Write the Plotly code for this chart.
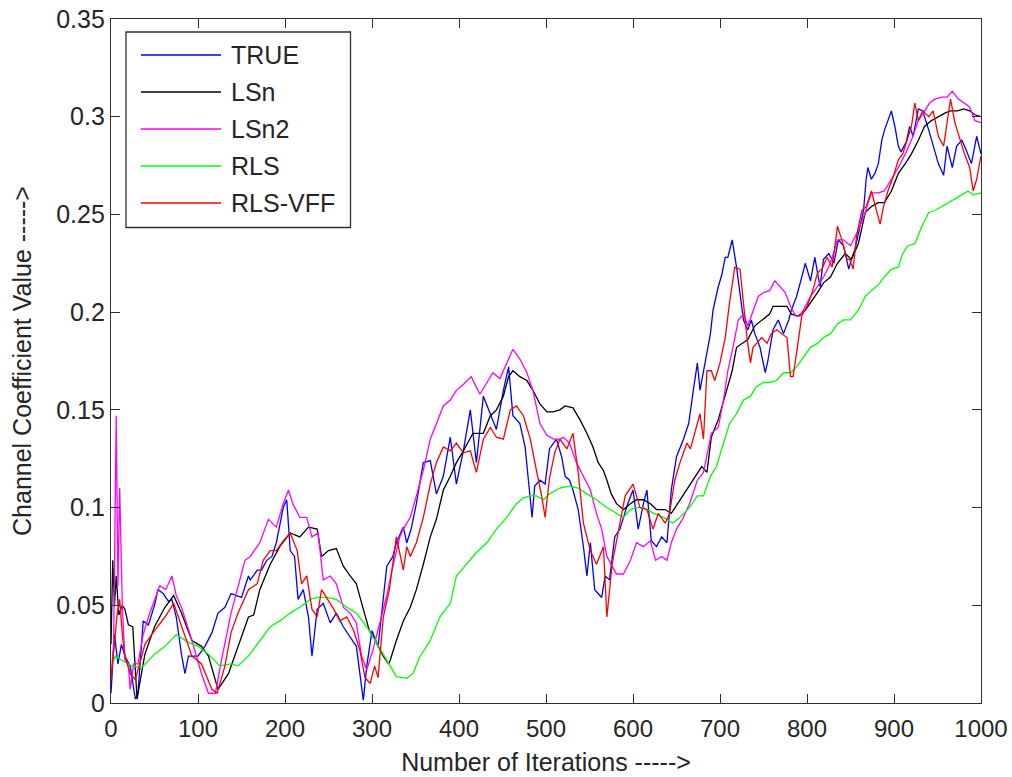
import plotly.graph_objects as go

# ---- channel coefficient tracks (iteration, value) ----
true_iter = [0, 4, 8, 12, 16, 22, 28, 31, 37, 43, 50, 54, 60, 66, 70, 75, 81, 85, 89, 100,
             108, 116, 123, 131, 138, 150, 158, 160, 165, 168, 173, 179, 185, 190, 198, 202, 206, 211, 215, 221,
             227, 231, 237, 244, 252, 259, 267, 275, 282, 290, 294, 300, 307, 317, 324, 328, 336, 340, 345, 351,
             359, 367, 374, 382, 390, 397, 405, 413, 420, 428, 436, 443, 451, 457, 462, 470, 476, 480, 484, 487,
             493, 499, 504, 512, 518, 522, 527, 531, 537, 543, 547, 551, 556, 564, 568, 573, 579, 585, 589, 594,
             600, 606, 612, 616, 621, 627, 633, 639, 644, 650, 658, 664, 670, 674, 677, 683, 689, 692, 698, 702,
             706, 709, 714, 719, 723, 727, 732, 736, 740, 746, 752, 755, 761, 767, 773, 779, 782, 788, 794, 798,
             804, 809, 815, 819, 825, 831, 836, 842, 848, 851, 855, 861, 865, 868, 870, 874, 878, 882, 886, 889,
             893, 897, 901, 905, 908, 914, 918, 922, 928, 933, 940, 945, 951, 957, 961, 967, 972, 978, 983, 989,
             995, 1000]
true_val = [0.005, 0.035, 0.02, 0.03, 0.024, 0.019, 0.002, 0.005, 0.042, 0.04, 0.05, 0.058, 0.056, 0.052, 0.053, 0.044, 0.025, 0.015, 0.024, 0.024,
            0.029, 0.036, 0.046, 0.049, 0.056, 0.054, 0.065, 0.063, 0.066, 0.068, 0.068, 0.073, 0.075, 0.082, 0.1, 0.104, 0.078, 0.075, 0.053, 0.058,
            0.044, 0.024, 0.048, 0.051, 0.041, 0.046, 0.039, 0.034, 0.029, 0.0015, 0.019, 0.037, 0.029, 0.07, 0.075, 0.082, 0.09, 0.082, 0.089, 0.102,
            0.123, 0.124, 0.107, 0.116, 0.136, 0.112, 0.129, 0.15, 0.123, 0.157, 0.148, 0.14, 0.16, 0.172, 0.147, 0.143, 0.131, 0.114, 0.095, 0.111,
            0.114, 0.112, 0.13, 0.135, 0.126, 0.116, 0.114, 0.109, 0.099, 0.08, 0.065, 0.082, 0.058, 0.054, 0.065, 0.063, 0.085, 0.089, 0.095, 0.102,
            0.109, 0.089, 0.102, 0.109, 0.083, 0.08, 0.085, 0.082, 0.109, 0.126, 0.135, 0.143, 0.162, 0.174, 0.16, 0.174, 0.189, 0.201, 0.213, 0.219,
            0.228, 0.228, 0.237, 0.223, 0.21, 0.196, 0.191, 0.196, 0.189, 0.182, 0.169, 0.175, 0.191, 0.196, 0.189, 0.196, 0.201, 0.208, 0.218, 0.225,
            0.216, 0.228, 0.213, 0.227, 0.23, 0.225, 0.237, 0.234, 0.222, 0.227, 0.232, 0.244, 0.252, 0.268, 0.274, 0.268, 0.271, 0.276, 0.288, 0.293,
            0.298, 0.303, 0.295, 0.285, 0.282, 0.287, 0.295, 0.29, 0.304, 0.303, 0.293, 0.285, 0.276, 0.27, 0.285, 0.274, 0.285, 0.288, 0.283, 0.276,
            0.29, 0.281]

lsn_iter = [0, 2, 4, 6, 9, 13, 16, 20, 25, 30, 33, 39, 50, 62, 72, 81, 93, 104, 112, 123,
            135, 146, 158, 164, 171, 183, 194, 206, 217, 227, 237, 242, 250, 259, 267, 275, 282, 290, 297, 305,
            313, 319, 321, 328, 336, 344, 351, 359, 367, 374, 382, 390, 397, 405, 416, 428, 436, 443, 451, 457,
            462, 470, 478, 485, 493, 501, 508, 516, 522, 531, 539, 547, 554, 560, 566, 570, 575, 581, 589, 597,
            604, 612, 620, 627, 637, 644, 654, 662, 669, 674, 679, 685, 690, 698, 706, 714, 719, 725, 732, 740,
            748, 757, 761, 769, 777, 782, 790, 798, 806, 812, 819, 827, 835, 844, 851, 859, 867, 874, 882, 889,
            897, 905, 913, 920, 928, 935, 943, 951, 959, 965, 973, 980, 987, 993, 1000]
lsn_val = [0.03, 0.073, 0.05, 0.065, 0.045, 0.05, 0.048, 0.04, 0.039, 0.002, 0.01, 0.025, 0.039, 0.049, 0.055, 0.046, 0.032, 0.029, 0.024, 0.007,
           0.015, 0.029, 0.044, 0.045, 0.058, 0.071, 0.08, 0.087, 0.085, 0.09, 0.089, 0.075, 0.078, 0.079, 0.07, 0.065, 0.061, 0.048, 0.037, 0.031,
           0.024, 0.02, 0.022, 0.032, 0.042, 0.049, 0.058, 0.071, 0.085, 0.094, 0.109, 0.116, 0.123, 0.129, 0.138, 0.138, 0.147, 0.15, 0.157, 0.167,
           0.17, 0.167, 0.165, 0.16, 0.153, 0.149, 0.149, 0.15, 0.152, 0.151, 0.145, 0.138, 0.131, 0.123, 0.119, 0.114, 0.107, 0.102, 0.099, 0.102,
           0.104, 0.104, 0.102, 0.099, 0.099, 0.097, 0.104, 0.109, 0.114, 0.118, 0.121, 0.118, 0.136, 0.145, 0.158, 0.17, 0.182, 0.184, 0.186, 0.193,
           0.196, 0.199, 0.203, 0.203, 0.203, 0.199, 0.198, 0.201, 0.206, 0.21, 0.215, 0.218, 0.225, 0.23, 0.227, 0.235, 0.251, 0.254, 0.256, 0.256,
           0.262, 0.271, 0.276, 0.281, 0.288, 0.295, 0.298, 0.3, 0.302, 0.303, 0.303, 0.304, 0.303, 0.301, 0.3]

lsn2_iter = [0, 3, 6, 8, 10, 13, 16, 20, 22, 26, 31, 37, 43, 50, 56, 63, 70, 75, 81, 93,
             104, 112, 120, 127, 138, 154, 160, 171, 181, 190, 198, 204, 209, 217, 225, 231, 238, 244, 252, 259,
             267, 275, 282, 288, 294, 301, 309, 317, 324, 332, 336, 344, 351, 359, 367, 374, 382, 390, 397, 405,
             414, 424, 432, 439, 447, 455, 462, 470, 478, 485, 493, 501, 509, 516, 520, 527, 535, 543, 551, 558,
             564, 570, 575, 581, 589, 597, 604, 612, 620, 626, 633, 639, 644, 650, 658, 665, 674, 681, 686, 690,
             698, 704, 709, 715, 721, 727, 732, 738, 744, 750, 757, 763, 769, 775, 781, 787, 792, 798, 804, 812,
             819, 827, 835, 842, 850, 859, 867, 874, 882, 889, 897, 905, 913, 920, 928, 935, 941, 947, 955, 961,
             967, 974, 981, 987, 993, 1000]
lsn2_val = [0.013, 0.03, 0.147, 0.06, 0.11, 0.05, 0.022, 0.02, 0.007, 0.02, 0.02, 0.035, 0.044, 0.053, 0.06, 0.058, 0.065, 0.055, 0.049, 0.032,
            0.015, 0.005, 0.005, 0.022, 0.046, 0.073, 0.075, 0.082, 0.094, 0.09, 0.102, 0.109, 0.102, 0.095, 0.095, 0.085, 0.087, 0.063, 0.065, 0.061,
            0.049, 0.046, 0.041, 0.024, 0.017, 0.027, 0.041, 0.055, 0.07, 0.085, 0.089, 0.095, 0.106, 0.119, 0.135, 0.143, 0.152, 0.155, 0.16, 0.163,
            0.167, 0.158, 0.164, 0.169, 0.166, 0.174, 0.181, 0.176, 0.169, 0.16, 0.143, 0.137, 0.135, 0.135, 0.136, 0.133, 0.123, 0.116, 0.109, 0.097,
            0.089, 0.075, 0.071, 0.066, 0.066, 0.073, 0.082, 0.08, 0.083, 0.073, 0.075, 0.073, 0.082, 0.089, 0.095, 0.102, 0.114, 0.118, 0.129, 0.138,
            0.141, 0.155, 0.17, 0.182, 0.196, 0.199, 0.193, 0.201, 0.208, 0.21, 0.211, 0.216, 0.213, 0.21, 0.203, 0.198, 0.198, 0.203, 0.208, 0.213,
            0.218, 0.225, 0.237, 0.237, 0.234, 0.242, 0.251, 0.261, 0.261, 0.262, 0.268, 0.274, 0.281, 0.288, 0.298, 0.303, 0.307, 0.309, 0.31, 0.31,
            0.313, 0.309, 0.307, 0.305, 0.298, 0.297]

rls_iter = [0, 5, 12, 24, 35, 50, 62, 75, 89, 100, 112, 125, 138, 146, 158, 171, 183, 194, 206, 217,
            229, 237, 248, 259, 271, 282, 294, 305, 317, 328, 340, 347, 355, 367, 378, 390, 397, 409, 420, 432,
            443, 455, 466, 474, 482, 489, 497, 504, 516, 527, 537, 547, 558, 570, 581, 589, 597, 604, 612, 624,
            635, 646, 654, 665, 674, 681, 689, 696, 704, 711, 719, 727, 735, 742, 750, 757, 765, 773, 781, 788,
            796, 804, 812, 819, 827, 835, 842, 850, 859, 867, 874, 882, 889, 897, 905, 910, 916, 924, 932, 940,
            947, 955, 963, 970, 978, 985, 991, 1000]
rls_val = [0.018, 0.024, 0.022, 0.019, 0.018, 0.025, 0.029, 0.035, 0.031, 0.029, 0.025, 0.019, 0.02, 0.019, 0.024, 0.032, 0.039, 0.042, 0.046, 0.049,
           0.053, 0.054, 0.054, 0.053, 0.049, 0.046, 0.039, 0.031, 0.022, 0.0135, 0.0126, 0.015, 0.0237, 0.032, 0.044, 0.051, 0.065, 0.071, 0.077, 0.082,
           0.089, 0.095, 0.102, 0.105, 0.106, 0.106, 0.104, 0.107, 0.11, 0.111, 0.11, 0.107, 0.104, 0.1, 0.097, 0.095, 0.099, 0.1, 0.1, 0.097,
           0.095, 0.092, 0.095, 0.1, 0.106, 0.106, 0.116, 0.121, 0.133, 0.143, 0.148, 0.155, 0.157, 0.162, 0.164, 0.164, 0.165, 0.169, 0.169, 0.172,
           0.177, 0.182, 0.184, 0.187, 0.189, 0.194, 0.196, 0.196, 0.201, 0.208, 0.211, 0.214, 0.218, 0.222, 0.223, 0.23, 0.234, 0.235, 0.244, 0.251,
           0.252, 0.254, 0.256, 0.258, 0.26, 0.262, 0.26, 0.261]

vff_iter = [0, 4, 7, 10, 13, 16, 22, 28, 33, 39, 50, 62, 72, 81, 93, 104, 116, 122, 131, 138,
            146, 158, 168, 175, 183, 190, 198, 206, 214, 219, 225, 231, 237, 242, 248, 256, 263, 271, 279, 286,
            292, 298, 303, 307, 313, 320, 328, 336, 340, 344, 351, 359, 367, 374, 382, 390, 397, 405, 413, 420,
            428, 436, 443, 451, 459, 466, 474, 482, 489, 495, 499, 504, 510, 516, 524, 531, 537, 543, 551, 558,
            566, 570, 576, 585, 591, 600, 608, 616, 623, 629, 637, 642, 648, 654, 662, 666, 671, 677, 681, 685,
            690, 694, 700, 706, 711, 717, 723, 727, 731, 735, 738, 742, 748, 754, 759, 765, 771, 777, 781, 784,
            788, 794, 800, 806, 812, 817, 823, 829, 835, 840, 846, 849, 853, 857, 863, 868, 874, 880, 884, 888,
            893, 899, 905, 910, 916, 920, 924, 928, 933, 940, 945, 951, 957, 961, 965, 970, 976, 981, 987, 991,
            995, 1000]
vff_val = [0.012, 0.03, 0.045, 0.053, 0.035, 0.024, 0.015, 0.012, 0.02, 0.03, 0.037, 0.044, 0.051, 0.039, 0.024, 0.02, 0.007, 0.005, 0.019, 0.036,
           0.046, 0.058, 0.061, 0.073, 0.078, 0.078, 0.083, 0.087, 0.078, 0.061, 0.065, 0.048, 0.044, 0.058, 0.054, 0.048, 0.042, 0.044, 0.037, 0.027,
           0.013, 0.01, 0.019, 0.013, 0.044, 0.058, 0.085, 0.068, 0.08, 0.075, 0.082, 0.095, 0.112, 0.123, 0.131, 0.129, 0.133, 0.128, 0.129, 0.118,
           0.135, 0.141, 0.136, 0.135, 0.15, 0.152, 0.147, 0.135, 0.119, 0.106, 0.095, 0.115, 0.128, 0.135, 0.13, 0.138, 0.118, 0.092, 0.078, 0.071,
           0.08, 0.044, 0.071, 0.092, 0.106, 0.112, 0.1, 0.099, 0.089, 0.097, 0.092, 0.097, 0.114, 0.123, 0.133, 0.13, 0.138, 0.148, 0.135, 0.17,
           0.17, 0.165, 0.174, 0.187, 0.205, 0.223, 0.222, 0.203, 0.187, 0.174, 0.182, 0.184, 0.187, 0.184, 0.189, 0.191, 0.189, 0.187, 0.167, 0.167,
           0.179, 0.198, 0.203, 0.21, 0.22, 0.222, 0.228, 0.223, 0.244, 0.237, 0.227, 0.227, 0.222, 0.239, 0.252, 0.254, 0.262, 0.251, 0.245, 0.254,
           0.262, 0.269, 0.278, 0.281, 0.29, 0.295, 0.307, 0.298, 0.303, 0.3, 0.303, 0.29, 0.285, 0.298, 0.309, 0.297, 0.288, 0.281, 0.274, 0.262,
           0.268, 0.28]

series_names = ["TRUE", "LSn", "LSn2", "RLS", "RLS-VFF"]
series_colors = ["#0000ff", "#000000", "#ff00ff", "#00ff00", "#ff0000"]

x_ticks = [0, 100, 200, 300, 400, 500, 600, 700, 800, 900, 1000]
y_ticks = [0, 0.05, 0.1, 0.15, 0.2, 0.25, 0.3, 0.35]
y_tick_text = ["0", "0.05", "0.1", "0.15", "0.2", "0.25", "0.3", "0.35"]

series = [(true_iter, true_val), (lsn_iter, lsn_val), (lsn2_iter, lsn2_val),
          (rls_iter, rls_val), (vff_iter, vff_val)]

W, H = 1012, 777
ML, MR, MT, MB = 111, 31, 19, 74
PW, PH = W - ML - MR, H - MT - MB

FONT = "Liberation Sans, Arial, Helvetica, sans-serif"
TXT = "#262626"
AX = "#303030"

fig = go.Figure()
for (xs, ys), name, color in zip(series, series_names, series_colors):
    fig.add_trace(go.Scatter(x=xs, y=ys, mode="lines", name=name,
                             line=dict(color=color, width=1.3), showlegend=False))


def px_x(p):
    return (p - ML) / PW


def px_y(p):
    return (H - MB - p) / PH


# legend box drawn on top of the plot area
shapes = [dict(type="rect", xref="paper", yref="paper",
               x0=px_x(126), x1=px_x(350.5), y0=px_y(227.5), y1=px_y(32),
               fillcolor="white", line=dict(color=AX, width=1.3), layer="above")]
annotations = []
for i, (name, color) in enumerate(zip(series_names, series_colors)):
    yp = px_y(55 + 37 * i)
    shapes.append(dict(type="line", xref="paper", yref="paper",
                       x0=px_x(141), x1=px_x(221), y0=yp, y1=yp,
                       line=dict(color=color, width=1.5), layer="above"))
    annotations.append(dict(xref="paper", yref="paper", x=px_x(229), y=yp,
                            text=name, showarrow=False, xanchor="left", yanchor="middle",
                            font=dict(family=FONT, size=25, color=TXT)))

fig.update_layout(
    width=W, height=H,
    margin=dict(l=ML, r=MR, t=MT, b=MB, autoexpand=False),
    paper_bgcolor="white", plot_bgcolor="white",
    shapes=shapes, annotations=annotations,
    font=dict(family=FONT, size=25, color=TXT),
)
fig.update_xaxes(range=[0, 1000], tickvals=x_ticks, ticks="inside", ticklen=9,
                 tickcolor=AX, tickwidth=1.3, showline=True, linecolor=AX, linewidth=1.3,
                 mirror="ticks", showgrid=False, zeroline=False, ticklabelstandoff=4,
                 tickfont=dict(family=FONT, size=24, color=TXT),
                 title=dict(text="Number of Iterations ----->", standoff=12,
                            font=dict(family=FONT, size=25, color=TXT)))
fig.update_yaxes(range=[0, 0.35], tickvals=y_ticks, ticktext=y_tick_text, ticks="inside",
                 ticklen=9, tickcolor=AX, tickwidth=1.3, showline=True, linecolor=AX,
                 linewidth=1.3, mirror="ticks", showgrid=False, zeroline=False,
                 tickfont=dict(family=FONT, size=25, color=TXT),
                 title=dict(text="Channel Coefficient Value ----->", standoff=17,
                            font=dict(family=FONT, size=25, color=TXT)))

fig.write_html("out.html")
